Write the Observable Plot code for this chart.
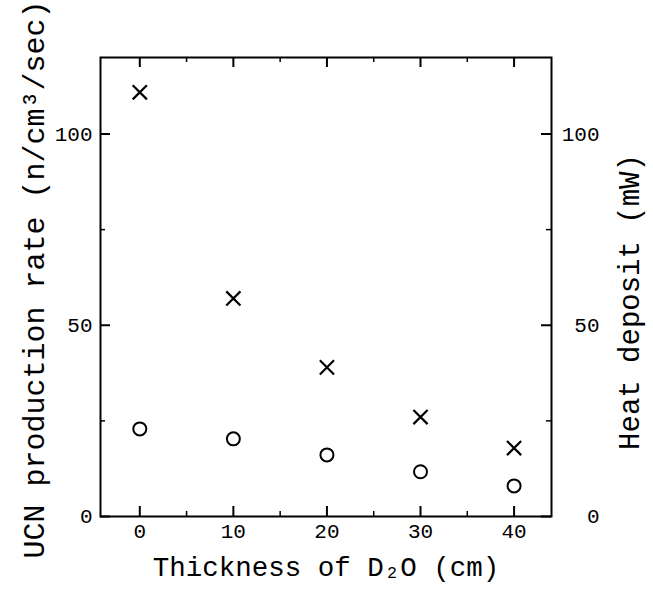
<!DOCTYPE html>
<html><head><meta charset="utf-8">
<script src="https://cdn.jsdelivr.net/npm/d3@7"></script>
<script src="https://cdn.jsdelivr.net/npm/@observablehq/plot@0.6"></script>
<style>body{margin:0;background:#fff}</style>
</head><body><div id="chart"></div>
<script>
const thickness = [0, 10, 20, 30, 40];
const ucnRate = [22.9, 20.3, 16.1, 11.7, 8.0];       // circles
const heatDeposit = [110.9, 57.0, 39.0, 26.0, 17.9]; // crosses
const xTicks = [0, 10, 20, 30, 40];
const xMinor = [5, 15, 25, 35];
const yTicks = [0, 50, 100];
const yMinor = [25, 75];
const xLabel = "Thickness of D\u2082O (cm)";
const yLeftLabel = "UCN production rate (n/cm\u00b3/sec)";
const yRightLabel = "Heat deposit (mW)";

const W = 653, H = 598;
const mL = 100, mR = 102, mT = 57, mB = 82;
const pw = W - mL - mR, ph = H - mT - mB;
const font = "'Liberation Mono', 'DejaVu Sans Mono', monospace";

const circles = thickness.map((x, i) => ({x, y: ucnRate[i]}));
const crosses = thickness.map((x, i) => ({x, y: heatDeposit[i]}));

const chart = Plot.plot({
  width: W, height: H,
  marginLeft: mL, marginRight: mR, marginTop: mT, marginBottom: mB,
  style: {fontFamily: font, background: "white", color: "black"},
  x: {domain: [-4.2, 44]},
  y: {domain: [0, 120]},
  marks: [
    Plot.frame({stroke: "black", strokeWidth: 2}),
    // bottom ticks
    Plot.tickX(xTicks, {x: d => d, insetTop: ph - 10, stroke: "black", strokeWidth: 2}),
    Plot.tickX(xMinor, {x: d => d, insetTop: ph - 5, stroke: "black", strokeWidth: 1.5}),
    // top ticks
    Plot.tickX(xTicks, {x: d => d, insetBottom: ph - 10, stroke: "black", strokeWidth: 2}),
    Plot.tickX(xMinor, {x: d => d, insetBottom: ph - 5, stroke: "black", strokeWidth: 1.5}),
    // left ticks
    Plot.tickY(yTicks, {y: d => d, insetRight: pw - 10, stroke: "black", strokeWidth: 2}),
    Plot.tickY(yMinor, {y: d => d, insetRight: pw - 5, stroke: "black", strokeWidth: 1.5}),
    // right ticks
    Plot.tickY(yTicks, {y: d => d, insetLeft: pw - 10, stroke: "black", strokeWidth: 2}),
    Plot.tickY(yMinor, {y: d => d, insetLeft: pw - 5, stroke: "black", strokeWidth: 1.5}),
    Plot.axisX(xTicks, {anchor: "bottom", tickSize: 0, tickPadding: 7, fontSize: 21, label: null, fontFamily: font, letterSpacing: -2}),
    Plot.axisY(yTicks, {anchor: "left", tickSize: 0, tickPadding: 8, fontSize: 21, label: null, fontFamily: font, letterSpacing: -2}),
    Plot.axisY(yTicks, {anchor: "right", tickSize: 0, tickPadding: 48, textAnchor: "end", fontSize: 21, label: null, fontFamily: font, letterSpacing: -2}),
    Plot.dot(circles, {x: "x", y: "y", symbol: "circle", r: 6.5, stroke: "black", strokeWidth: 2, fill: "none"}),
    Plot.dot(crosses, {x: "x", y: "y", symbol: "times", r: 6.5, stroke: "black", strokeWidth: 2.2}),
    Plot.text([xLabel], {frameAnchor: "bottom", textAnchor: "middle", lineAnchor: "middle", dy: 51, fontSize: 27.5, fontFamily: font, fill: "black"}),
    Plot.text([yLeftLabel], {frameAnchor: "left", textAnchor: "middle", lineAnchor: "middle", rotate: -90, dx: -66, dy: -7.5, fontSize: 30, letterSpacing: -0.6, fontFamily: font, fill: "black"}),
    Plot.text([yRightLabel], {frameAnchor: "right", textAnchor: "middle", lineAnchor: "middle", rotate: -90, dx: 78, dy: 15, fontSize: 29, fontFamily: font, fill: "black"})
  ]
});
document.getElementById("chart").appendChild(chart);
</script>
</body></html>
